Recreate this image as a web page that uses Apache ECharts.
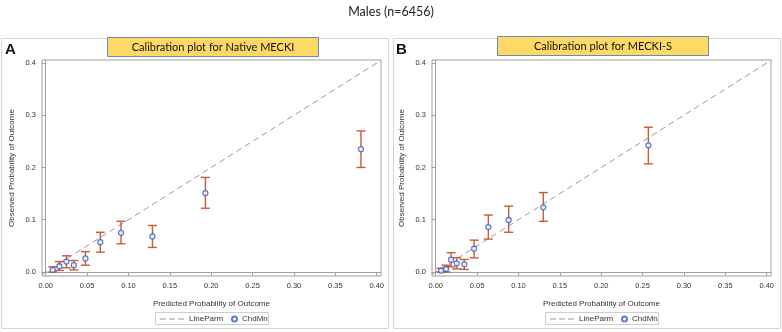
<!DOCTYPE html>
<html>
<head>
<meta charset="utf-8">
<script src="https://cdn.jsdelivr.net/npm/echarts@6/dist/echarts.min.js"></script>
<style>
html, body { margin: 0; padding: 0; background: #fff; }
#chart { width: 782px; height: 332px; }
</style>
</head>
<body>
<div id="chart"></div>
<script>
// panel A: Native MECKI
var predA = [0.0085, 0.0165, 0.025, 0.034, 0.048, 0.066, 0.091, 0.129, 0.193, 0.381];
var obsA  = [0.004, 0.011, 0.020, 0.013, 0.026, 0.057, 0.075, 0.068, 0.151, 0.235];
var lowA  = [0.000, 0.003, 0.008, 0.004, 0.013, 0.038, 0.054, 0.047, 0.122, 0.200];
var highA = [0.010, 0.020, 0.031, 0.022, 0.039, 0.076, 0.097, 0.089, 0.181, 0.270];
// panel B: MECKI-S
var predB = [0.0065, 0.0125, 0.0186, 0.0254, 0.0346, 0.0464, 0.0636, 0.0882, 0.130, 0.257];
var obsB  = [0.0025, 0.0057, 0.0236, 0.0166, 0.0147, 0.0446, 0.086, 0.0995, 0.1238, 0.2425];
var lowB  = [0.000, 0.000, 0.010, 0.006, 0.005, 0.027, 0.063, 0.076, 0.097, 0.207];
var highB = [0.007, 0.013, 0.037, 0.027, 0.024, 0.061, 0.109, 0.126, 0.152, 0.277];

var xTicks = [0, 0.05, 0.10, 0.15, 0.20, 0.25, 0.30, 0.35, 0.40];
var yTicks = [0, 0.1, 0.2, 0.3, 0.4];
var diag = [-0.0045, 0.4055];

var AXIS_GRAY = '#a0a0a0';
var BAR_COLOR = '#cc5a38';
var DOT_COLOR = '#2f5fc9';
// dashed-line legend icon (tiny corner dots keep the box 24x6)
var DASH_ICON = 'path://M0,2.5h6v1H0z M9,2.5h6v1H9z M18,2.5h6v1h-6z M0,0h0.01v0.01H0z M23.99,5.99h0.01v0.01h-0.01z';

function zip(a, b) { return a.map(function (v, i) { return [v, b[i]]; }); }
function zip3(a, b, c) { return a.map(function (v, i) { return [v, b[i], c[i]]; }); }

function xAxisFor(idx) {
    return {
        gridIndex: idx, type: 'value', min: -0.00447, max: 0.4052,
        name: 'Predicted Probability of Outcome', nameLocation: 'middle', nameGap: 24,
        nameTextStyle: { fontFamily: 'Liberation Sans', fontSize: 8, color: '#333' },
        axisLine: { show: true, lineStyle: { color: AXIS_GRAY } },
        axisTick: { show: true, length: 4, customValues: xTicks, lineStyle: { color: AXIS_GRAY } },
        axisLabel: {
            customValues: xTicks, margin: 6, fontFamily: 'Liberation Sans', fontSize: 7.5, color: '#333',
            formatter: function (v) { return v.toFixed(2); }
        },
        splitLine: { show: false }
    };
}
function yAxisFor(idx) {
    return {
        gridIndex: idx, type: 'value', min: -0.00766, max: 0.4057,
        name: 'Observed Probability of Outcome', nameLocation: 'middle', nameGap: 26,
        nameTextStyle: { fontFamily: 'Liberation Sans', fontSize: 8, color: '#333' },
        axisLine: { show: true, lineStyle: { color: AXIS_GRAY } },
        axisTick: { show: true, length: 4, customValues: yTicks, lineStyle: { color: AXIS_GRAY } },
        axisLabel: {
            customValues: yTicks, margin: 6, fontFamily: 'Liberation Sans', fontSize: 7.5, color: '#333',
            formatter: function (v) { return v.toFixed(1); }
        },
        splitLine: { show: false }
    };
}

function errorBars(idx, data) {
    return {
        type: 'custom', name: 'err', xAxisIndex: idx, yAxisIndex: idx, z: 3,
        data: data,
        renderItem: function (params, api) {
            var top = api.coord([api.value(0), api.value(2)]);
            var bot = api.coord([api.value(0), api.value(1)]);
            var w = 4.5;
            var st = { stroke: BAR_COLOR, lineWidth: 1.4 };
            return {
                type: 'group',
                children: [
                    { type: 'line', shape: { x1: top[0], y1: top[1], x2: bot[0], y2: bot[1] }, style: st },
                    { type: 'line', shape: { x1: top[0] - w, y1: top[1], x2: top[0] + w, y2: top[1] }, style: st },
                    { type: 'line', shape: { x1: bot[0] - w, y1: bot[1], x2: bot[0] + w, y2: bot[1] }, style: st }
                ]
            };
        },
        silent: true
    };
}

function lineParm(idx) {
    return {
        type: 'line', name: 'LineParm', xAxisIndex: idx, yAxisIndex: idx, z: 2,
        data: [[diag[0], diag[0]], [diag[1], diag[1]]],
        showSymbol: false, symbol: 'none',
        lineStyle: { color: '#9a9a9a', width: 1, type: [6, 4] },
        itemStyle: { color: '#9a9a9a' }
    };
}

function dots(idx, data) {
    return {
        type: 'scatter', name: 'ChdMn', xAxisIndex: idx, yAxisIndex: idx, z: 4,
        data: data, symbol: 'circle', symbolSize: 5,
        itemStyle: { color: '#fff', borderColor: DOT_COLOR, borderWidth: 1.3 }
    };
}

function legendsFor(left) {
    var txt = { fontFamily: 'Liberation Sans', fontSize: 8, color: '#333' };
    return [
        {
            left: left + 5, top: 315, padding: 0, selectedMode: false,
            data: [{ name: 'LineParm', icon: DASH_ICON, itemStyle: { color: '#9a9a9a' } }],
            itemWidth: 24, itemHeight: 6, textStyle: txt
        },
        {
            left: left + 76, top: 315, padding: 0, selectedMode: false,
            data: [{ name: 'ChdMn', icon: 'circle' }],
            itemWidth: 5, itemHeight: 5, textStyle: txt
        }
    ];
}

function titleBox(x, y, text) {
    return {
        type: 'group', left: x, top: y,
        children: [
            { type: 'rect', shape: { x: 0, y: 0, width: 211, height: 19 },
              style: { fill: '#ffd966', stroke: '#6d88b4', lineWidth: 1 } },
            { type: 'text', x: 105.5, y: 10,
              style: { text: text, fill: '#111', font: '11px Lato', align: 'center', verticalAlign: 'middle' } }
        ]
    };
}

var chart = echarts.init(document.getElementById('chart'), null, { renderer: 'canvas' });
chart.setOption({
    animation: false,
    backgroundColor: '#fff',
    title: {
        text: 'Males (n=6456)', left: 'center', top: 0,
        textStyle: { fontFamily: 'Lato', fontWeight: 'normal', fontSize: 12.5, color: '#222' }
    },
    grid: [
        { left: 42, top: 60, width: 339, height: 216, show: true, borderColor: AXIS_GRAY, borderWidth: 1 },
        { left: 432, top: 60, width: 339, height: 216, show: true, borderColor: AXIS_GRAY, borderWidth: 1 }
    ],
    xAxis: [xAxisFor(0), xAxisFor(1)],
    yAxis: [yAxisFor(0), yAxisFor(1)],
    legend: legendsFor(155).concat(legendsFor(545)),
    graphic: [
        { type: 'rect', shape: { x: 1.5, y: 38.5, width: 387, height: 290 },
          style: { fill: 'none', stroke: '#d6d6d6', lineWidth: 1 }, z: -1 },
        { type: 'rect', shape: { x: 393.5, y: 38.5, width: 387, height: 290 },
          style: { fill: 'none', stroke: '#d6d6d6', lineWidth: 1 }, z: -1 },
        { type: 'rect', shape: { x: 155.5, y: 312.5, width: 113, height: 12 },
          style: { fill: 'none', stroke: '#cfcfcf', lineWidth: 1 } },
        { type: 'rect', shape: { x: 545.5, y: 312.5, width: 113, height: 12 },
          style: { fill: 'none', stroke: '#cfcfcf', lineWidth: 1 } },
        titleBox(107, 37, 'Calibration plot for Native MECKI'),
        titleBox(497, 36, 'Calibration plot for MECKI-S'),
        { type: 'text', left: 5, top: 42,
          style: { text: 'A', font: 'bold 15px Liberation Sans', fill: '#111' } },
        { type: 'text', left: 396, top: 42,
          style: { text: 'B', font: 'bold 15px Liberation Sans', fill: '#111' } }
    ],
    series: [
        lineParm(0),
        errorBars(0, zip3(predA, lowA, highA)),
        dots(0, zip(predA, obsA)),
        lineParm(1),
        errorBars(1, zip3(predB, lowB, highB)),
        dots(1, zip(predB, obsB))
    ]
});
</script>
</body>
</html>
